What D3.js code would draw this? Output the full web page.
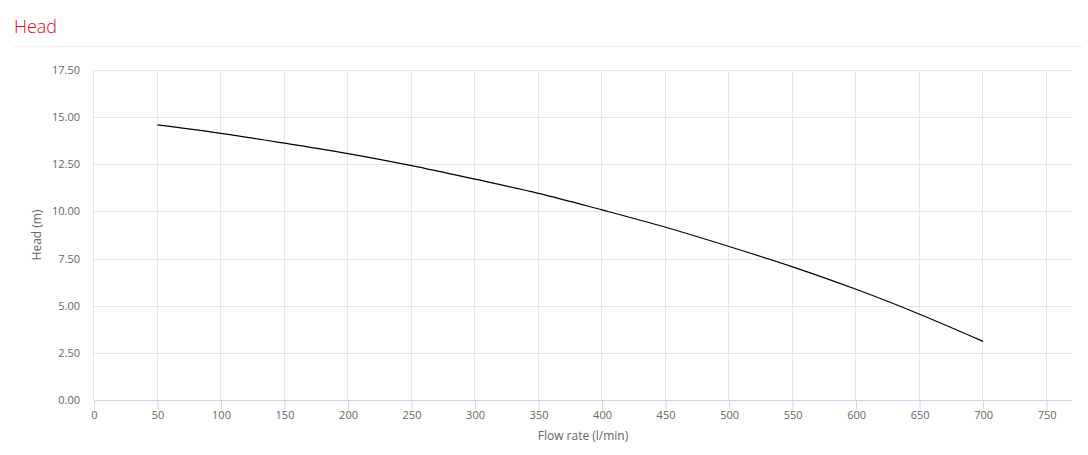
<!DOCTYPE html>
<html>
<head>
<meta charset="utf-8">
<script src="https://cdn.jsdelivr.net/npm/d3@7"></script>
<style>
  body { margin: 0; background: #fff; font-family: 'Open Sans', sans-serif; }
  .tick text { fill: #666; font-size: 11px; font-family: 'Open Sans', sans-serif; }
</style>
</head>
<body>
<script>
const flowRates = [50, 100, 150, 200, 250, 300, 350, 400, 450, 500, 550, 600, 650, 700];
const heads = [14.59, 14.14, 13.62, 13.07, 12.43, 11.71, 10.96, 10.08, 9.16, 8.14, 7.06, 5.87, 4.55, 3.11];
const xTicks = [0, 50, 100, 150, 200, 250, 300, 350, 400, 450, 500, 550, 600, 650, 700, 750];
const yTicks = [0, 2.5, 5, 7.5, 10, 12.5, 15, 17.5];

const W = 1088;
const H = 455;
const margin = { top: 70, right: 16, bottom: 55, left: 94 };
const width = W - margin.left - margin.right;
const height = H - margin.top - margin.bottom;

const svg = d3.select('body').append('svg')
  .attr('width', W)
  .attr('height', H);

// title + separator
svg.append('text')
  .attr('x', 14)
  .attr('y', 33)
  .attr('fill', '#e30613')
  .style('font-size', '18px')
  .style('font-weight', 300)
  .style('font-family', "'Open Sans', sans-serif")
  .text('Head');

svg.append('line')
  .attr('x1', 14).attr('x2', 1082)
  .attr('y1', 46.5).attr('y2', 46.5)
  .attr('stroke', '#ebebeb');

const g = svg.append('g')
  .attr('transform', `translate(${margin.left}, ${margin.top})`);

const x = d3.scaleLinear()
  .domain([0, 770])
  .range([0, width]);

const y = d3.scaleLinear()
  .domain([0, 17.5])
  .range([height, 0]);

// grid
g.append('g')
  .selectAll('line')
  .data(yTicks)
  .enter().append('line')
  .attr('x1', 0).attr('x2', width)
  .attr('y1', d => Math.round(y(d)) + 0.5)
  .attr('y2', d => Math.round(y(d)) + 0.5)
  .attr('stroke', '#e6e6e6');

g.append('g')
  .selectAll('line')
  .data(xTicks)
  .enter().append('line')
  .attr('x1', d => Math.round(x(d)) - 0.5)
  .attr('x2', d => Math.round(x(d)) - 0.5)
  .attr('y1', 0).attr('y2', height)
  .attr('stroke', '#e6e6e6');

// axes
const xAxis = g.append('g')
  .attr('transform', `translate(0, ${height})`)
  .call(d3.axisBottom(x).tickValues(xTicks).tickSize(10).tickPadding(1));
xAxis.select('.domain').remove();
xAxis.selectAll('.tick line').attr('stroke', '#ccd6eb');
xAxis.append('line')
  .attr('x1', 0).attr('x2', width)
  .attr('y1', 0.5).attr('y2', 0.5)
  .attr('stroke', '#ccd6eb');

const yAxis = g.append('g')
  .call(d3.axisLeft(y).tickValues(yTicks).tickFormat(d3.format('.2f')).tickSize(0).tickPadding(14));
yAxis.select('.domain').remove();

// curve
const line = d3.line()
  .x((d, i) => x(flowRates[i]))
  .y(d => y(d))
  .curve(d3.curveCatmullRom);

g.append('path')
  .datum(heads)
  .attr('fill', 'none')
  .attr('stroke', '#000')
  .attr('stroke-width', 1.2)
  .attr('d', line);

// axis titles
svg.append('text')
  .attr('x', margin.left + width / 2)
  .attr('y', 440)
  .attr('text-anchor', 'middle')
  .attr('fill', '#666')
  .style('font-size', '12px')
  .text('Flow rate (l/min)');

svg.append('text')
  .attr('transform', `translate(41, ${margin.top + height / 2}) rotate(-90)`)
  .attr('text-anchor', 'middle')
  .attr('fill', '#666')
  .style('font-size', '12px')
  .text('Head (m)');
</script>
</body>
</html>
